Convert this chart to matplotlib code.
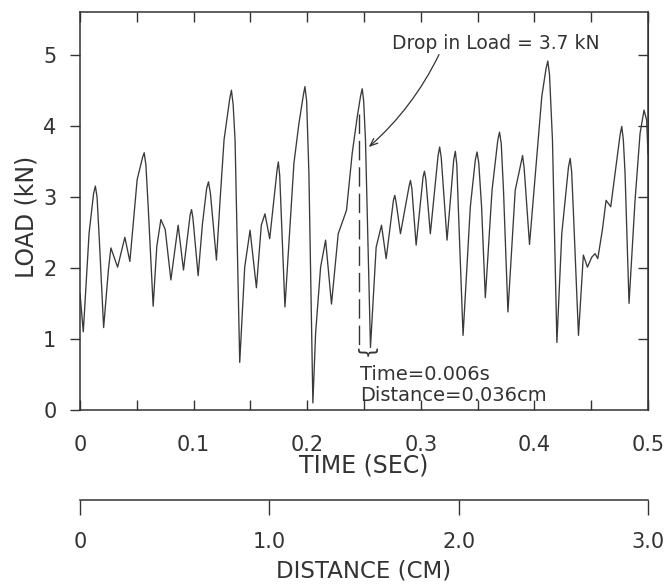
import matplotlib
matplotlib.use("Agg")
import matplotlib.pyplot as plt
import matplotlib.transforms as mtransforms

# load trace (time in s, load in kN)
time_s = [0.0000, 0.0029, 0.0080, 0.0120, 0.0135, 0.0150, 0.0170, 0.0208, 0.0250, 0.0272,
          0.0331, 0.0395, 0.0439, 0.0503, 0.0550, 0.0565, 0.0580, 0.0600, 0.0644, 0.0676,
          0.0712, 0.0750, 0.0800, 0.0864, 0.0911, 0.0970, 0.0982, 0.0994, 0.1040, 0.1078,
          0.1115, 0.1131, 0.1148, 0.1201, 0.1235, 0.1268, 0.1318, 0.1333, 0.1348, 0.1365,
          0.1406, 0.1450, 0.1497, 0.1553, 0.1596, 0.1628, 0.1670, 0.1735, 0.1746, 0.1758,
          0.1804, 0.1883, 0.1927, 0.1965, 0.1980, 0.1995, 0.2015, 0.2050, 0.2074, 0.2118,
          0.2162, 0.2214, 0.2273, 0.2346, 0.2396, 0.2440, 0.2470, 0.2484, 0.2497, 0.2513,
          0.2557, 0.2607, 0.2654, 0.2695, 0.2759, 0.2771, 0.2783, 0.2821, 0.2897, 0.2909,
          0.2921, 0.2959, 0.3020, 0.3032, 0.3044, 0.3084, 0.3152, 0.3166, 0.3180, 0.3231,
          0.3290, 0.3304, 0.3317, 0.3330, 0.3372, 0.3436, 0.3480, 0.3495, 0.3510, 0.3535,
          0.3568, 0.3627, 0.3678, 0.3693, 0.3708, 0.3728, 0.3767, 0.3831, 0.3882, 0.3896,
          0.3910, 0.3957, 0.4021, 0.4065, 0.4102, 0.4118, 0.4133, 0.4159, 0.4198, 0.4241,
          0.4300, 0.4315, 0.4328, 0.4344, 0.4388, 0.4431, 0.4467, 0.4505, 0.4534, 0.4558,
          0.4598, 0.4631, 0.4672, 0.4710, 0.4755, 0.4769, 0.4783, 0.4798, 0.4833, 0.4886,
          0.4930, 0.4965, 0.4988, 0.5000]
load_kn = [1.64, 1.10, 2.49, 3.05, 3.15, 3.00, 2.40, 1.16, 1.97, 2.28,
           2.01, 2.43, 2.09, 3.24, 3.55, 3.62, 3.45, 2.87, 1.46, 2.30,
           2.68, 2.54, 1.83, 2.60, 1.97, 2.75, 2.82, 2.70, 1.89, 2.62,
           3.12, 3.21, 3.05, 2.11, 3.00, 3.80, 4.38, 4.50, 4.30, 3.80,
           0.67, 2.01, 2.53, 1.72, 2.60, 2.76, 2.41, 3.38, 3.49, 3.30,
           1.45, 3.47, 4.03, 4.42, 4.55, 4.35, 3.33, 0.10, 1.08, 2.01,
           2.39, 1.49, 2.48, 2.81, 3.61, 4.12, 4.42, 4.52, 4.35, 3.80,
           0.88, 2.29, 2.60, 2.13, 2.95, 3.02, 2.92, 2.48, 3.15, 3.23,
           3.12, 2.32, 3.28, 3.36, 3.25, 2.48, 3.58, 3.70, 3.55, 2.39,
           3.52, 3.64, 3.45, 2.86, 1.05, 2.86, 3.52, 3.63, 3.48, 2.86,
           1.58, 3.09, 3.80, 3.91, 3.75, 3.09, 1.38, 3.09, 3.48, 3.58,
           3.40, 2.33, 3.56, 4.41, 4.80, 4.91, 4.72, 3.80, 0.95, 2.48,
           3.42, 3.54, 3.35, 2.76, 1.05, 2.18, 2.01, 2.15, 2.20, 2.13,
           2.53, 2.95, 2.86, 3.33, 3.88, 3.99, 3.80, 3.33, 1.50, 2.95,
           3.89, 4.22, 4.08, 3.60]

time_ticks = [0, 0.1, 0.2, 0.3, 0.4, 0.5]
time_labels = ["0", "0.1", "0.2", "0.3", "0.4", "0.5"]
time_minor = [0.05, 0.15, 0.25, 0.35, 0.45]
load_ticks = [0, 1, 2, 3, 4, 5]
dist_ticks = [0, 1.0, 2.0, 3.0]
dist_labels = ["0", "1.0", "2.0", "3.0"]

# drop annotation
drop_time = 0.2455
drop_top, drop_bottom = 4.17, 0.88
brace_left, brace_right = 0.2419, 0.2586
arrow_head = (0.2542, 3.70)
arrow_tail = (0.3160, 5.00)

ink = "#333333"
plt.rcParams["font.family"] = ["DejaVu Sans"]
plt.rcParams["text.color"] = ink

W, H = 668, 584
fig = plt.figure(figsize=(W / 100, H / 100), dpi=100)
fig.patch.set_facecolor("white")

x0, x1, yb, yt = 80, 648, 410, 12
ax = fig.add_axes([x0 / W, 1 - yb / H, (x1 - x0) / W, (yb - yt) / H])
ax.plot(time_s, load_kn, color="#3a3a3a", lw=0.95, solid_joinstyle="round")
ax.set_xlim(0, 0.5)
ax.set_ylim(0, 5.6)

ax.set_xticks(time_ticks)
ax.set_xticklabels(time_labels)
ax.set_xticks(time_minor, minor=True)
ax.set_yticks(load_ticks)
ax.tick_params(axis="x", which="both", direction="in", top=True, length=7,
               width=1.0, color=ink, labelsize=15, pad=17.8, labelcolor=ink)
ax.tick_params(axis="y", direction="out", length=7, width=1.0, color=ink,
               labelsize=15, pad=10, labelcolor=ink)
for s in ax.spines.values():
    s.set_linewidth(1.1)
    s.set_color(ink)

right = ax.secondary_yaxis("right")
right.set_yticks(load_ticks[1:])
right.tick_params(direction="in", length=7, width=1.0, color=ink, labelright=False)
right.spines["right"].set_color(ink)

ax.set_xlabel("TIME (SEC)", fontsize=17, color=ink)
ax.xaxis.set_label_coords(0.5, (yb - 453.5) / (yb - yt))
ax.set_ylabel("LOAD (kN)", fontsize=17, color=ink)
ax.yaxis.set_label_coords((39 - x0) / (x1 - x0), 0.485)

# drop in load markup
ax.plot([drop_time, drop_time], [drop_top, drop_bottom], color=ink, lw=1.0,
        dashes=(14, 5))
ax.text((brace_left + brace_right) / 2, 0.80, "}", rotation=-90, fontsize=15,
        ha="center", va="center", color=ink)
ax.annotate("", xy=arrow_head, xytext=arrow_tail,
            arrowprops=dict(arrowstyle="->,head_length=0.55,head_width=0.22",
                            connectionstyle="arc3,rad=-0.1", color=ink, lw=0.9,
                            shrinkA=0, shrinkB=0))
ax.text(0.2748, 5.16, "Drop in Load = 3.7 kN", fontsize=13.5, ha="left",
        va="center")
ax.text(0.2463, 0.50, "Time=0.006s", fontsize=14, ha="left", va="center")
ax.text(0.2463, 0.20, "Distance=0.036cm", fontsize=14, ha="left", va="center")

# distance scale below
ax2 = fig.add_axes([x0 / W, 1 - 500 / H, (x1 - x0) / W, 0.0001])
ax2.set_xlim(0, 3.0)
ax2.set_xticks(dist_ticks)
ax2.set_xticklabels(dist_labels)
ax2.set_yticks([])
for k in ("top", "left", "right"):
    ax2.spines[k].set_visible(False)
ax2.spines["bottom"].set_linewidth(1.1)
ax2.spines["bottom"].set_color(ink)
ax2.patch.set_visible(False)
ax2.tick_params(axis="x", direction="out", length=11, width=1.0, color=ink,
                labelsize=15, pad=12, labelcolor=ink)
ax2.set_xlabel("DISTANCE (CM)", fontsize=16.5, color=ink)
ax2.xaxis.set_label_coords(0.5, 1 - 560 / H,
                           transform=mtransforms.blended_transform_factory(
                               ax2.transAxes, fig.transFigure))

fig.savefig("out.png", dpi=100, facecolor="white")
